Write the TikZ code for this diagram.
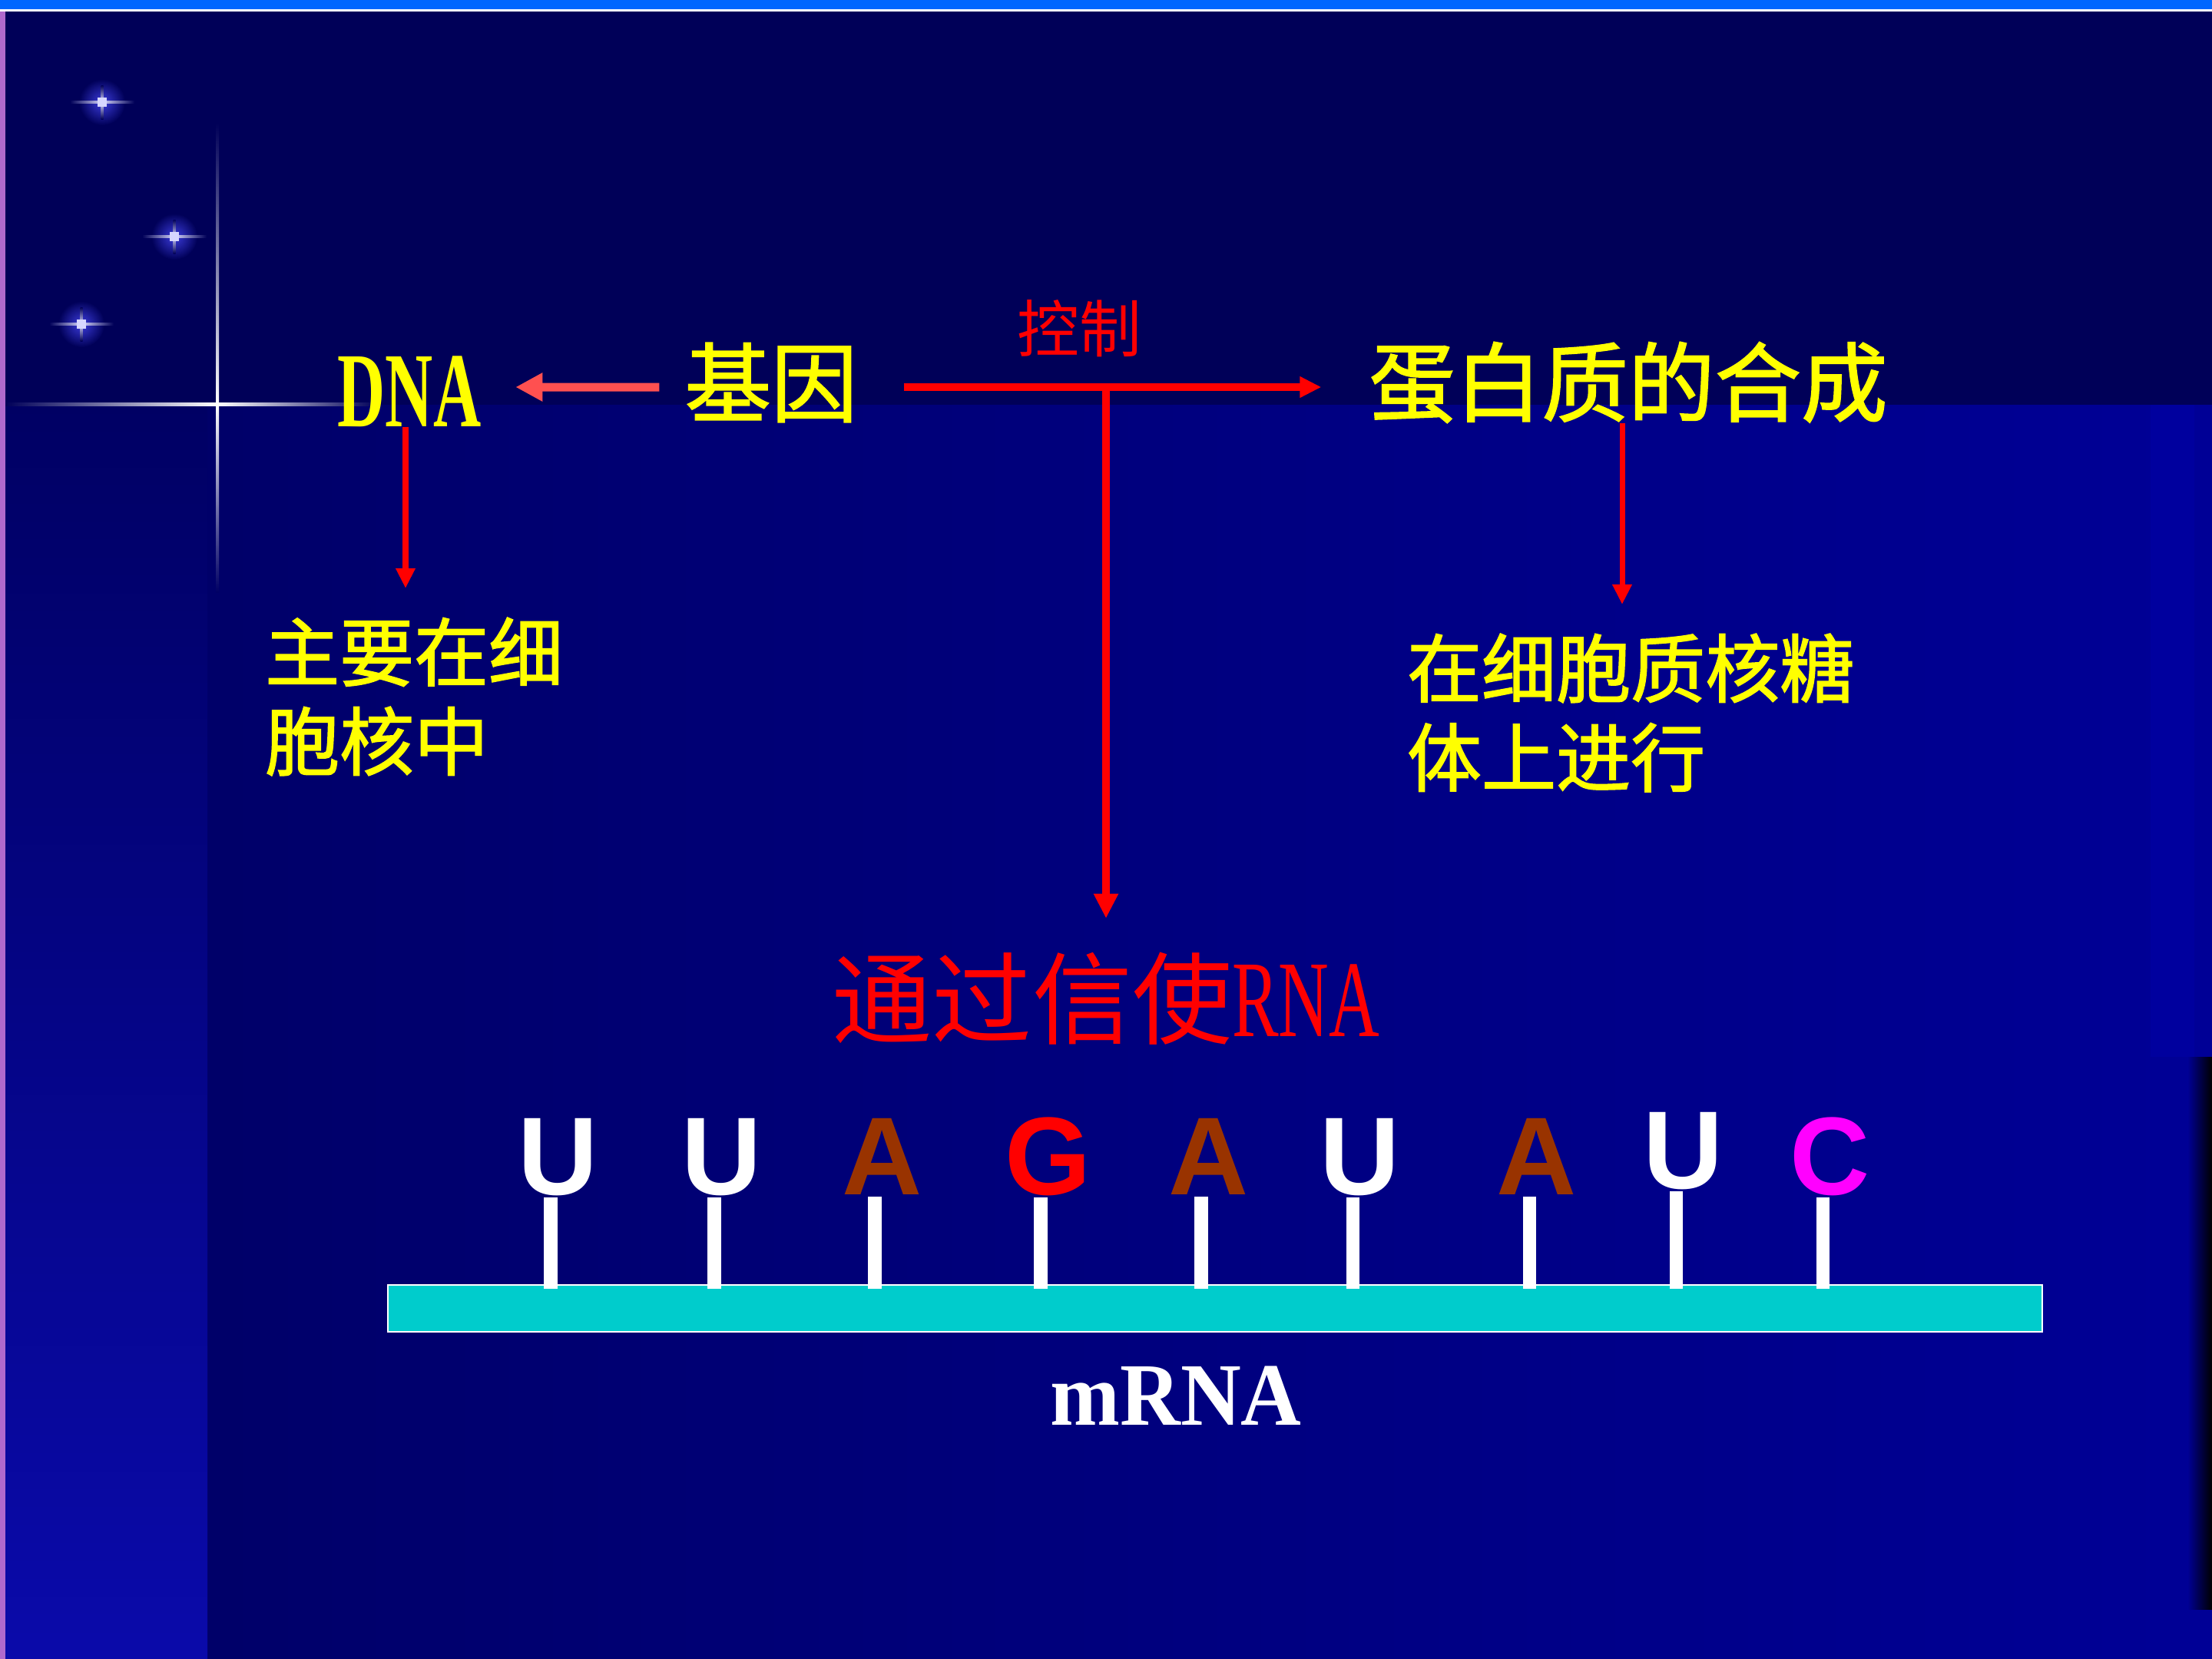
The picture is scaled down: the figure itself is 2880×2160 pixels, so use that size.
\documentclass[tikz,border=0pt]{standalone}
\usepackage{fontspec}
\usepackage{graphicx}
\setmainfont{Liberation Serif}
\newfontfamily\cjk{Noto Sans CJK SC}
\newfontfamily\cjkb{Noto Sans CJK SC}[FakeBold=1.6]
\newfontfamily\sansf{Liberation Sans}
\usetikzlibrary{arrows.meta}
\definecolor{topbar}{RGB}{0,102,255}
\definecolor{bgtop}{RGB}{0,0,88}
\definecolor{bglowL}{RGB}{0,0,100}
\definecolor{bglowR}{RGB}{0,0,150}
\definecolor{leftlow}{RGB}{10,10,170}
\definecolor{rightband}{RGB}{0,0,158}
\definecolor{purplestrip}{RGB}{175,105,205}
\definecolor{ylw}{RGB}{255,255,0}
\definecolor{red0}{RGB}{255,0,0}
\definecolor{redl}{RGB}{255,80,80}
\definecolor{brownA}{RGB}{153,51,0}
\definecolor{magC}{RGB}{255,0,255}
\definecolor{cyanbar}{RGB}{0,204,204}
\definecolor{starglow}{RGB}{60,60,220}
\definecolor{starcore}{RGB}{215,215,255}
\tikzset{
  txt/.style={inner sep=0pt, outer sep=0pt},
  yel/.style={txt, text=ylw},
  bigcjk/.style={font=\cjkb\fontsize{32}{36}\selectfont},
  midcjk/.style={font=\cjkb\fontsize{27.6}{33}\selectfont, align=left},
  redline/.style={draw=red0, line width=0.10cm},
  thinarrow/.style={draw=red0, line width=0.07cm, -{Triangle[length=0.26cm,width=0.24cm]}},
  nucl/.style={txt, anchor=base, font=\sansf\bfseries\fontsize{41}{42}\selectfont},
  stem/.style={draw=white, line width=0.17cm},
  star/.pic={
    \shade[inner color=starglow, outer color=bgtop] (0,0) circle (0.30cm);
    \shade[left color=bgtop, right color=starcore] (-42,-1.5) rectangle (0,1.5);
    \shade[left color=starcore, right color=bgtop] (0,-1.5) rectangle (42,1.5);
    \shade[top color=bgtop, bottom color=starcore] (-1.5,-22) rectangle (1.5,0);
    \shade[top color=starcore, bottom color=bgtop] (-1.5,0) rectangle (1.5,22);
    \fill[starcore] (-6,-6) rectangle (6,6);
  }
}
\begin{document}
\begin{tikzpicture}[x=0.01cm, y=-0.01cm]
\useasboundingbox (0,0) rectangle (2880,2160);
% background
\shade[left color=bglowL, right color=bglowR] (0,527) rectangle (2880,2160);
\fill[bgtop] (0,15) rectangle (2880,527);
\shade[top color=bglowL, bottom color=leftlow] (7,527) rectangle (270,2160);
\fill[rightband] (2800,527) rectangle (2857,1376);
\shade[left color=bglowR, right color=black] (2848,1376) rectangle (2880,2095);
\fill[topbar] (0,0) rectangle (2880,12);
\fill[white] (0,12) rectangle (2880,15);
\fill[purplestrip] (0,15) rectangle (7,2160);
% stars and glint
\pic at (133,133) {star};
\pic at (227,308) {star};
\pic at (106,422) {star};
\shade[left color=bgtop, right color=white] (7,524) rectangle (283,528);
\shade[left color=white, right color=bgtop] (283,524) rectangle (491,528);
\shade[top color=bgtop, bottom color=white] (281,160) rectangle (285,526);
\shade[top color=white, bottom color=bglowL] (281,526) rectangle (285,771);

% text nodes
\node[yel, font=\bfseries\fontsize{39.5}{40}\selectfont] (dna) at (533,510) {\scalebox{0.62}[1]{DNA}};
\node[yel, bigcjk] (jiyin) at (1004,498) {基因};
\node[txt, text=red0, font=\cjk\fontsize{23}{26}\selectfont] (kongzhi) at (1405,428) {控制};
\node[yel, bigcjk] (protein) at (2120,498) {蛋白质的合成};
\node[yel, midcjk, anchor=west] (ltext) at (345,907) {主要在细\\胞核中};
\node[yel, midcjk, anchor=west] (rtext) at (1832,928) {在细胞质核糖\\体上进行};
\node[txt, text=red0] (tongguo) at (1440,1300) {{\cjk\fontsize{37}{40}\selectfont 通过信使}{\fontsize{40.4}{42}\selectfont\scalebox{0.64}[1]{RNA}}};

% connectors
\coordinate (branch) at (1440,504);
\draw[draw=redl, line width=0.11cm, -{Triangle[length=0.35cm,width=0.35cm]}, shorten <=0.33cm, shorten >=0.45cm]
  ([yshift=-0.06cm]jiyin.west) -- ([yshift=0.06cm]dna.east);
\draw[redline, -{Triangle[length=0.28cm,width=0.26cm]}, shorten <=0.60cm, shorten >=0.62cm]
  ([yshift=-0.06cm]jiyin.east) -- ([yshift=-0.06cm]protein.west);
\draw[redline, -{Triangle[length=0.32cm,width=0.30cm]}, shorten >=0.44cm] (branch) -- (tongguo.north);
\draw[thinarrow, shorten >=0.38cm] ([xshift=-0.05cm]dna.south) -- ([xshift=-0.05cm]dna.south |- ltext.north);
\draw[thinarrow, shorten >=0.38cm] ([xshift=-0.08cm]protein.south) -- ([xshift=-0.08cm]protein.south |- rtext.north);

% mRNA strand
\node[draw=white, line width=0.02cm, fill=cyanbar, minimum width=21.53cm, minimum height=0.61cm, inner sep=0pt, anchor=north west] (bar) at (504,1672) {};
\node[nucl, text=white] (n1) at (727,1555) {U};
\node[nucl, text=white] (n2) at (940,1555) {U};
\node[nucl, text=brownA] (n3) at (1149,1555) {A};
\node[nucl, text=red0] (n4) at (1365,1555) {G};
\node[nucl, text=brownA] (n5) at (1574,1555) {A};
\node[nucl, text=white] (n6) at (1771,1555) {U};
\node[nucl, text=brownA] (n7) at (2001,1555) {A};
\node[nucl, text=white] (n8) at (2192,1547) {U};
\node[nucl, text=magC] (n9) at (2383,1555) {C};
\foreach \n in {n1,n2,n3,n4,n5,n6,n7,n8,n9}{
  \draw[stem, shorten <=0.03cm, shorten >=-0.06cm] ([xshift=-0.1cm]\n.south) -- ([xshift=-0.1cm]\n.south |- bar.north);
}
\node[txt, text=white, font=\bfseries\fontsize{33}{34}\selectfont] (mrna) at (1531,1817) {\scalebox{0.94}[1]{mRNA}};
\end{tikzpicture}
\end{document}
